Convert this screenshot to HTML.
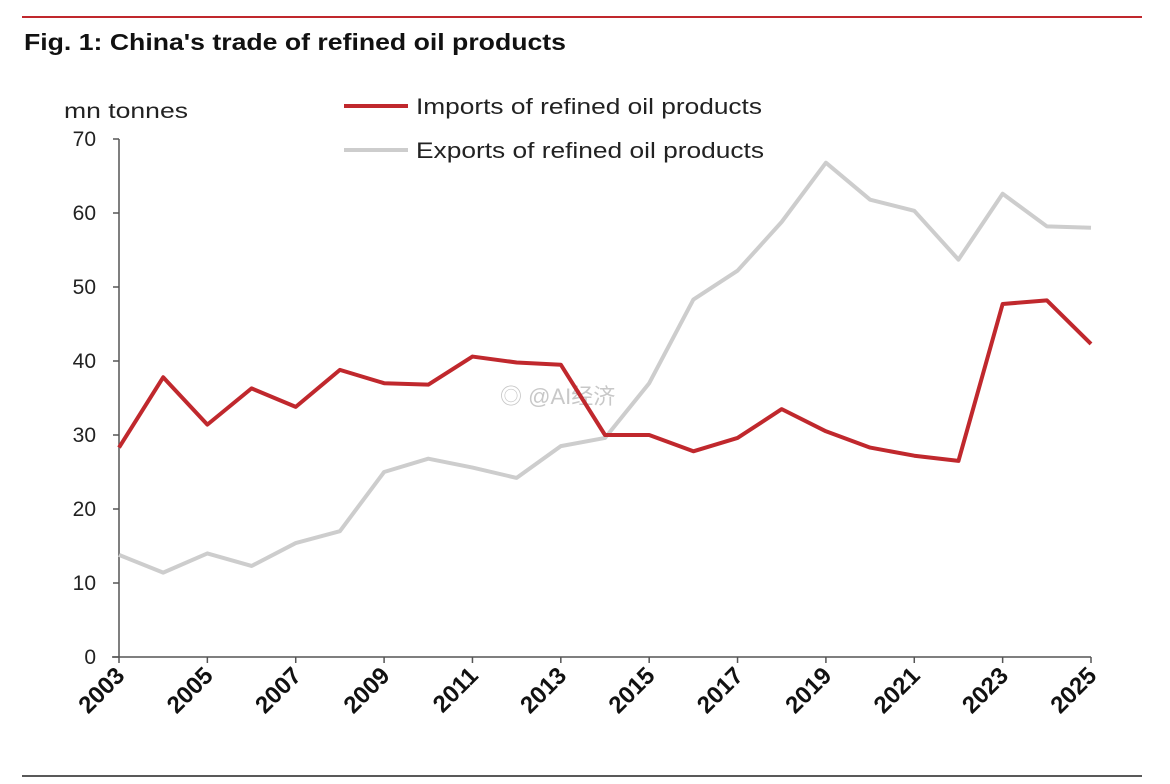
<!DOCTYPE html>
<html><head><meta charset="utf-8"><style>
body{margin:0;background:#fff;width:1170px;height:784px;overflow:hidden;font-family:"Liberation Sans",Arial,sans-serif}
</style></head><body>
<svg id="c" width="1170" height="784" style="position:absolute;left:0;top:0">
<line x1="22" y1="17" x2="1142" y2="17" stroke="#c0282d" stroke-width="2"/>
<text x="24" y="50" font-size="23" font-weight="bold" fill="#111" textLength="542" lengthAdjust="spacingAndGlyphs">Fig. 1: China's trade of refined oil products</text>
<text x="64" y="118" font-size="21" fill="#222" textLength="124" lengthAdjust="spacingAndGlyphs">mn tonnes</text>
<g>
<line x1="344" y1="106" x2="408" y2="106" stroke="#c0282d" stroke-width="4"/>
<text x="416" y="114" font-size="22" fill="#222" textLength="346" lengthAdjust="spacingAndGlyphs">Imports of refined oil products</text>
<line x1="344" y1="150" x2="408" y2="150" stroke="#cdcdcd" stroke-width="4"/>
<text x="416" y="158" font-size="22" fill="#222" textLength="348" lengthAdjust="spacingAndGlyphs">Exports of refined oil products</text>
</g>
<text x="500" y="404" font-size="22" fill="#bbb" opacity="0.8" font-family="Liberation Sans, Noto Sans CJK SC, sans-serif">◎ @AI经济</text>
<line x1="22" y1="776" x2="1142" y2="776" stroke="#222" stroke-width="1.5"/>
</svg>
<script>
const years=[2003,2004,2005,2006,2007,2008,2009,2010,2011,2012,2013,2014,2015,2016,2017,2018,2019,2020,2021,2022,2023,2024,2025];
const imports=[28.3,37.8,31.4,36.3,33.8,38.8,37.0,36.8,40.6,39.8,39.5,30.0,30.0,27.8,29.6,33.5,30.5,28.3,27.2,26.5,47.7,48.2,42.3];
const exports=[13.8,11.4,14.0,12.3,15.4,17.0,25.0,26.8,25.6,24.2,28.5,29.6,37.0,48.3,52.2,58.8,66.8,61.8,60.3,53.7,62.6,58.2,58.0];
const yTicks=[0,10,20,30,40,50,60,70];
const xTicks=[2003,2005,2007,2009,2011,2013,2015,2017,2019,2021,2023,2025];
const NS='http://www.w3.org/2000/svg',svg=document.getElementById('c');
const X=v=>119+(v-2003)*(1091-119)/22, Y=v=>657-v*(657-139)/70;
function el(t,a,p){const e=document.createElementNS(NS,t);for(const k in a)e.setAttribute(k,a[k]);(p||svg).appendChild(e);return e;}
const ax=el('g',{});


let l=el('line',{x1:119,y1:139,x2:119,y2:657,stroke:'#555','stroke-width':1.5},ax);


l=el('line',{x1:112,y1:657,x2:1091,y2:657,stroke:'#555','stroke-width':1.5},ax);


yTicks.forEach(v=>{
 const t=el('line',{x1:113,y1:Y(v),x2:119,y2:Y(v),stroke:'#555','stroke-width':1.5},ax);
 
 
 const s=el('text',{x:96,y:Y(v)+7,'text-anchor':'end','font-size':21,fill:'#222'},ax);
 s.textContent=v;
 
 
});
xTicks.forEach(v=>{
 const t=el('line',{x1:X(v),y1:657,x2:X(v),y2:663,stroke:'#555','stroke-width':1.5},ax);
 
 
 const s=el('text',{x:X(v)+7,y:677,'text-anchor':'end','font-size':24,'font-weight':'bold',fill:'#111',transform:`rotate(-45 ${X(v)+7} 677)`},ax);
 s.textContent=v;
 
 
});
function line(d,c,n){const p=el('polyline',{points:d.map((v,i)=>X(years[i])+','+Y(v)).join(' '),fill:'none',stroke:c,'stroke-width':4,'stroke-linejoin':'round'});
 
 }
line(exports,'#cdcdcd','exports-line');
line(imports,'#c0282d','imports-line');
</script>
</body></html>
